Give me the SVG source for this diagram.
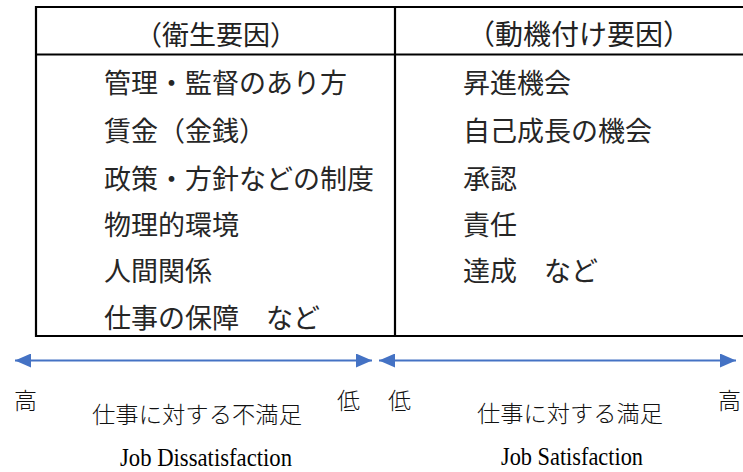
<svg xmlns="http://www.w3.org/2000/svg" width="743" height="472" viewBox="0 0 743 472">
<style>
.bg{fill:#fff}
.frame{stroke:#000;stroke-width:2.2;fill:none}
.hdr{font-family:"Noto Sans CJK JP","Noto Sans",sans-serif;fill:#222}
.item{font-family:"Noto Sans CJK JP","Noto Sans",sans-serif;font-size:27px;fill:#262626}
.lbl{font-family:"Noto Sans CJK JP",sans-serif;font-weight:300;font-size:23px;fill:#111}
.en{font-family:"Liberation Serif",serif;font-size:26px;fill:#000}
.axis{stroke:#4472C4;stroke-width:2;fill:none}
</style>
<defs>
<marker id="ah" viewBox="0 0 16 14" refX="16" refY="7" markerWidth="16" markerHeight="14" markerUnits="userSpaceOnUse" orient="auto-start-reverse">
<path d="M0,0 L16,7 L0,14 Z" fill="#4472C4"/>
</marker>
</defs>
<rect class="bg" x="0" y="0" width="743" height="472"/>
<g id="table">
<path class="frame" d="M36,7 H743 M36,54.5 H743 M36,336 H743 M36,6 V337 M395,6 V337"/>
</g>
<g id="hygiene">
<text class="hdr" x="135" y="45" font-size="27">（衛生要因）</text>
<text class="item" x="104" y="93">管理・監督のあり方</text>
<text class="item" x="104" y="141">賃金（金銭）</text>
<text class="item" x="104" y="189">政策・方針などの制度</text>
<text class="item" x="104" y="235">物理的環境</text>
<text class="item" x="104" y="281">人間関係</text>
<text class="item" x="104" y="328">仕事の保障　など</text>
</g>
<g id="motivation">
<text class="hdr" x="467" y="45" font-size="28">（動機付け要因）</text>
<text class="item" x="463" y="93">昇進機会</text>
<text class="item" x="463" y="141">自己成長の機会</text>
<text class="item" x="463" y="189">承認</text>
<text class="item" x="463" y="235">責任</text>
<text class="item" x="463" y="281">達成　など</text>
</g>
<g id="connectors">
<line class="axis" x1="15" y1="360.5" x2="372" y2="360.5" marker-start="url(#ah)" marker-end="url(#ah)"/>
<line class="axis" x1="379" y1="360.5" x2="736" y2="360.5" marker-start="url(#ah)" marker-end="url(#ah)"/>
</g>
<g id="dissatisfaction-label">
<text class="lbl" x="14" y="409">高</text>
<text class="lbl" x="337" y="409">低</text>
<text class="lbl" x="92" y="423" textLength="210" lengthAdjust="spacingAndGlyphs">仕事に対する不満足</text>
<text class="en" x="120" y="466" textLength="172" lengthAdjust="spacingAndGlyphs">Job Dissatisfaction</text>
</g>
<g id="satisfaction-label">
<text class="lbl" x="388" y="409">低</text>
<text class="lbl" x="718" y="409">高</text>
<text class="lbl" x="477" y="422" textLength="186" lengthAdjust="spacingAndGlyphs">仕事に対する満足</text>
<text class="en" x="501" y="465" textLength="142" lengthAdjust="spacingAndGlyphs">Job Satisfaction</text>
</g>
</svg>
